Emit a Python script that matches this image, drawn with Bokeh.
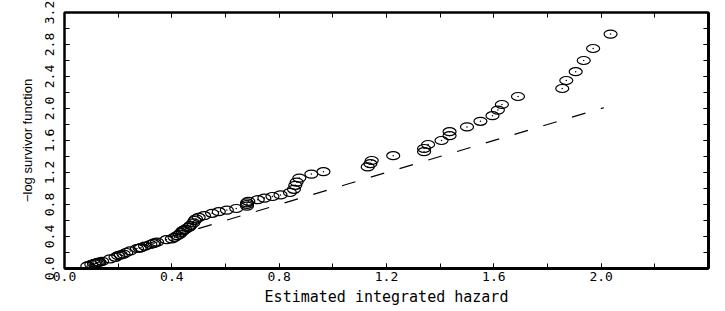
from bokeh.plotting import figure
from bokeh.models import Range1d, LinearAxis, SingleIntervalTicker, PrintfTickFormatter, CustomJSTickFormatter
from bokeh.embed import file_html
from bokeh.resources import INLINE

# Estimated integrated hazard (x) vs -log survivor function (y)
hazard = [0.085, 0.10, 0.11, 0.115, 0.12, 0.125, 0.13, 0.14, 0.17, 0.19, 0.20, 0.21,
          0.22, 0.23, 0.245, 0.27, 0.28, 0.285, 0.30, 0.32, 0.33, 0.335, 0.345, 0.38,
          0.40, 0.41, 0.42, 0.43, 0.435, 0.44, 0.445, 0.45, 0.46, 0.465, 0.47, 0.48,
          0.485, 0.49, 0.50, 0.52, 0.55, 0.575, 0.605, 0.64, 0.68, 0.68, 0.68, 0.685,
          0.72, 0.745, 0.775, 0.805, 0.84, 0.855, 0.86, 0.865, 0.875, 0.92, 0.965, 1.13,
          1.14, 1.145, 1.225, 1.34, 1.34, 1.355, 1.405, 1.435, 1.435, 1.50, 1.55, 1.595,
          1.615, 1.63, 1.69, 1.855, 1.87, 1.905, 1.935, 1.97, 2.035]
neglogsurv = [0.03, 0.05, 0.06, 0.065, 0.07, 0.075, 0.08, 0.09, 0.12, 0.14, 0.16, 0.17,
              0.18, 0.20, 0.22, 0.25, 0.255, 0.26, 0.28, 0.30, 0.31, 0.32, 0.33, 0.36,
              0.37, 0.39, 0.41, 0.43, 0.45, 0.47, 0.48, 0.49, 0.51, 0.52, 0.54, 0.57,
              0.60, 0.62, 0.64, 0.66, 0.69, 0.71, 0.73, 0.75, 0.78, 0.80, 0.82, 0.84,
              0.86, 0.88, 0.90, 0.92, 0.95, 0.99, 1.04, 1.08, 1.13, 1.18, 1.21, 1.27,
              1.31, 1.35, 1.41, 1.46, 1.50, 1.55, 1.60, 1.66, 1.71, 1.77, 1.84, 1.91,
              1.98, 2.05, 2.15, 2.25, 2.35, 2.46, 2.60, 2.75, 2.93]

# reference line (dashed)
ref_x = [0.07, 2.01]
ref_y = [0.07, 2.01]

x_ticks_interval = 0.4
y_ticks_interval = 0.4

p = figure(width=725, height=311, x_range=Range1d(0, 2.4), y_range=Range1d(0, 3.2),
           output_backend="svg", toolbar_location=None,
           x_axis_location=None, y_axis_location=None,
           min_border_left=64, min_border_right=17, min_border_top=12, min_border_bottom=43)
p.grid.visible = False
p.background_fill_color = "white"
p.border_fill_color = "white"
p.outline_line_color = "black"
p.outline_line_width = 2

tick_font = "DejaVu Sans Mono"

def make_axis(interval, show_labels, lw):
    ax = LinearAxis(ticker=SingleIntervalTicker(interval=interval, num_minor_ticks=2))
    ax.major_tick_in = 5
    ax.major_tick_out = 0
    ax.minor_tick_in = 5
    ax.minor_tick_out = 0
    ax.axis_line_width = lw
    ax.axis_line_color = "black"
    ax.major_tick_line_width = 1
    ax.minor_tick_line_width = 1
    ax.major_tick_line_color = "black"
    ax.minor_tick_line_color = "black"
    if show_labels:
        ax.formatter = PrintfTickFormatter(format="%.1f")
        ax.major_label_text_font = tick_font
        ax.major_label_text_font_size = "13px"
        ax.major_label_text_color = "black"
    else:
        ax.formatter = CustomJSTickFormatter(code="return '';")
        ax.major_label_standoff = 0
    return ax

xb = make_axis(x_ticks_interval, True, 3)
xb.major_label_standoff = 3
xb.axis_label = "Estimated integrated hazard"
xb.axis_label_text_font = tick_font
xb.axis_label_text_font_size = "15px"
xb.axis_label_text_font_style = "normal"
xb.axis_label_text_color = "black"
xb.axis_label_standoff = 4
p.add_layout(xb, "below")

yl = make_axis(y_ticks_interval, True, 2)
yl.major_label_orientation = "vertical"
yl.major_label_standoff = 11
yl.axis_label = "\u2212log survivor function"
yl.axis_label_text_font = "Liberation Sans"
yl.axis_label_text_font_size = "13px"
yl.axis_label_text_font_style = "normal"
yl.axis_label_text_color = "black"
yl.axis_label_standoff = 7
p.add_layout(yl, "left")

xt = make_axis(x_ticks_interval, False, 2)
p.add_layout(xt, "above")
yr = make_axis(y_ticks_interval, False, 3)
p.add_layout(yr, "right")

p.line(ref_x, ref_y, line_color="black", line_width=1.2, line_dash="14 16")
p.ellipse(x=hazard, y=neglogsurv, width=13, height=8, width_units="screen",
          height_units="screen", fill_color=None, line_color="black", line_width=1.2)
p.scatter(x=hazard, y=neglogsurv, size=1.5, marker="circle", fill_color="black",
          line_color=None)

open("out.html", "w").write(file_html(p, INLINE))
